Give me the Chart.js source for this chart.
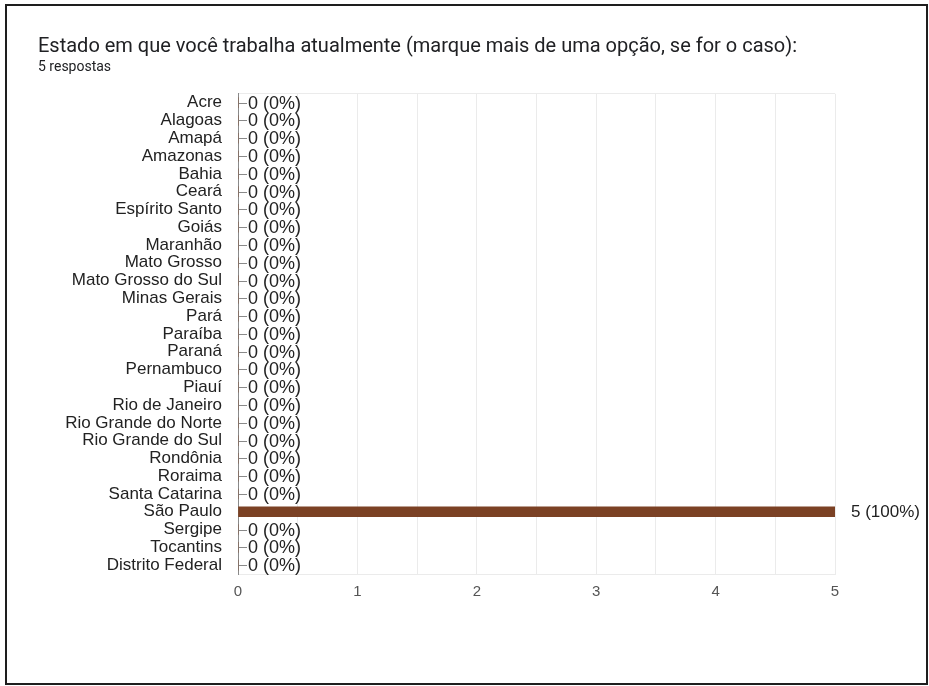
<!DOCTYPE html>
<html>
<head>
<meta charset="utf-8">
<script src="https://cdn.jsdelivr.net/npm/chart.js@4.4.1/dist/chart.umd.min.js"></script>
<style>
    body { margin: 0; background: #fff; }
    #box { position: absolute; left: 0; top: 0; width: 929px; height: 686px; }
    #frame {
        position: absolute; left: 5px; top: 4px; width: 923px; height: 681px;
        box-sizing: border-box; border: 2px solid #1e1e1e; pointer-events: none;
    }
</style>
</head>
<body>
<div id="box">
    <canvas id="grafico" width="929" height="686"></canvas>
    <div id="frame"></div>
</div>
<script>
// dados
const estados = [
    "Acre", "Alagoas", "Amapá", "Amazonas", "Bahia", "Ceará", "Espírito Santo",
    "Goiás", "Maranhão", "Mato Grosso", "Mato Grosso do Sul", "Minas Gerais",
    "Pará", "Paraíba", "Paraná", "Pernambuco", "Piauí", "Rio de Janeiro",
    "Rio Grande do Norte", "Rio Grande do Sul", "Rondônia", "Roraima",
    "Santa Catarina", "São Paulo", "Sergipe", "Tocantins", "Distrito Federal",
];
const contagem = [
    0, 0, 0, 0, 0, 0, 0,
    0, 0, 0, 0, 0,
    0, 0, 0, 0, 0, 0,
    0, 0, 0, 0,
    0, 5, 0, 0, 0,
];
const respostas = 5;
const xTicks = [0, 1, 2, 3, 4, 5];

const titulo = "Estado em que você trabalha atualmente (marque mais de uma opção, se for o caso):";
const subtitulo = respostas + " respostas";

const fonteArial = "'Liberation Sans', Arial, sans-serif";

// rótulos "n (x%)" na ponta de cada barra
const rotulos = {
    id: "rotulos",
    afterDatasetsDraw(chart) {
        const ctx = chart.ctx;
        const meta = chart.getDatasetMeta(0);
        ctx.save();
        ctx.textBaseline = "middle";
        ctx.textAlign = "left";
        meta.data.forEach((bar, i) => {
            const v = contagem[i];
            const pct = Math.round((v / respostas) * 100);
            const txt = `${v} (${pct}%)`;
            ctx.fillStyle = "#222";
            if (v === 0) {
                ctx.font = "18px " + fonteArial;
                ctx.strokeStyle = "#8a8a8a";
                ctx.lineWidth = 1;
                ctx.beginPath();
                ctx.moveTo(bar.x + 1, Math.round(bar.y) + 0.5);
                ctx.lineTo(bar.x + 9, Math.round(bar.y) + 0.5);
                ctx.stroke();
                ctx.fillText(txt, bar.x + 10, bar.y + 1);
            } else {
                ctx.font = "17px " + fonteArial;
                ctx.fillText(txt, bar.x + 16, bar.y + 1);
            }
        });
        ctx.restore();
    },
};

const canvas = document.getElementById("grafico");

new Chart(canvas, {
    type: "bar",
    data: {
        labels: estados,
        datasets: [
            {
                data: contagem,
                backgroundColor: "#7b4124",
                barThickness: 10,
            },
        ],
    },
    options: {
        indexAxis: "y",
        responsive: false,
        animation: false,
        devicePixelRatio: 1,
        layout: { padding: { left: 38, right: 94, top: 0, bottom: 0 } },
        plugins: {
            legend: { display: false },
            tooltip: { enabled: false },
            title: {
                display: true,
                text: titulo,
                align: "start",
                color: "#202124",
                font: { family: "Roboto", size: 20, weight: "normal", lineHeight: 1.1 },
                padding: { top: 36, bottom: 0 },
            },
            subtitle: {
                display: true,
                text: subtitulo,
                align: "start",
                color: "#202124",
                font: { family: "Roboto", size: 14, weight: "normal", lineHeight: 1.2 },
                padding: { top: 1, bottom: 18 },
            },
        },
        scales: {
            x: {
                min: 0,
                max: 5,
                afterFit: (scale) => { scale.height = 112; },
                afterBuildTicks: (scale) => {
                    // linhas a cada 0.5, rótulo só nos inteiros
                    const t = [];
                    for (let v = 0; v <= 5; v += 0.5) t.push({ value: v });
                    scale.ticks = t;
                },
                ticks: {
                    padding: 9,
                    color: "#555",
                    font: { family: fonteArial, size: 15 },
                    callback: (v) => (xTicks.includes(v) ? String(v) : ""),
                },
                grid: {
                    drawTicks: false,
                    color: (c) => (c.tick && c.tick.value === 0 ? "rgba(0,0,0,0)" : "#ebebeb"),
                },
                border: { display: true, color: "#ebebeb" },
            },
            y: {
                afterFit: (scale) => { scale.width = 200; },
                ticks: {
                    padding: 16,
                    color: "#222",
                    font: { family: fonteArial, size: 17 },
                    autoSkip: false,
                },
                grid: {
                    drawTicks: false,
                    color: (c) => (c.index === 0 ? "#ebebeb" : "rgba(0,0,0,0)"),
                },
                border: { display: true, color: "#8a8a8a", width: 1 },
            },
        },
    },
    plugins: [rotulos],
});
</script>
</body>
</html>
